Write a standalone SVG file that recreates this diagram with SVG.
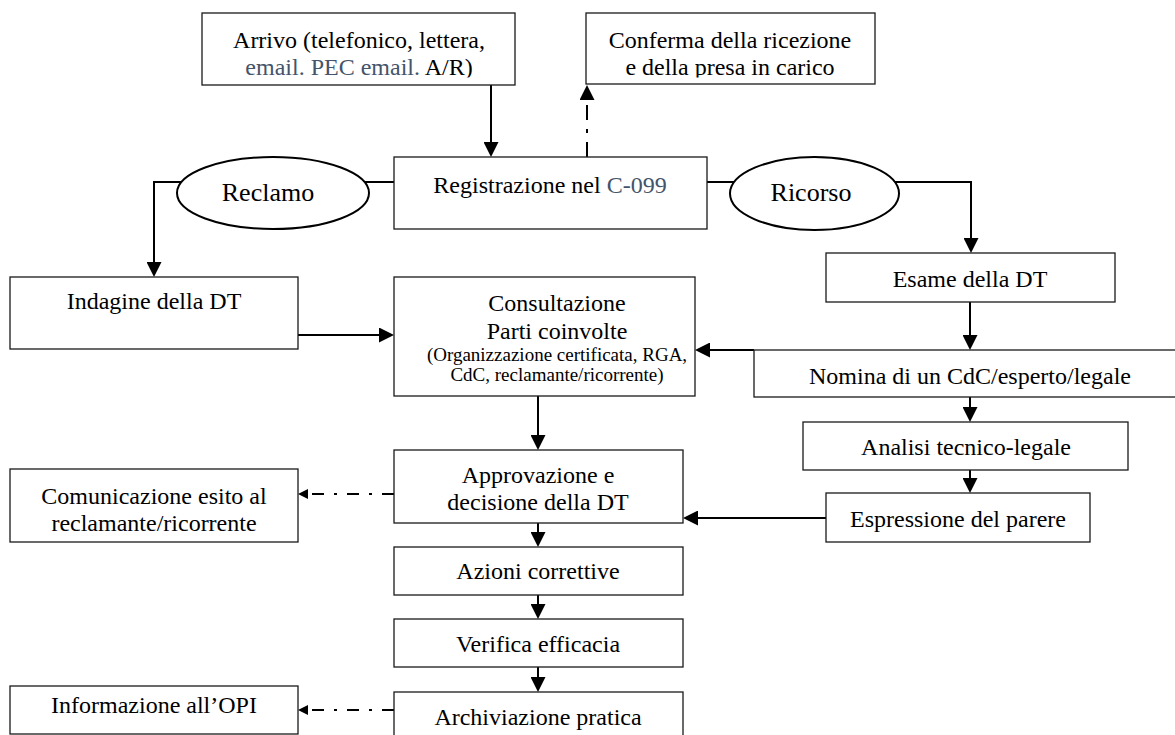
<svg xmlns="http://www.w3.org/2000/svg" width="1175" height="735" viewBox="0 0 1175 735">
<defs>
<marker id="ah" markerWidth="15" markerHeight="15" refX="0" refY="7.5" orient="auto" markerUnits="userSpaceOnUse"><path d="M0,0 L15,7.5 L0,15 z" fill="#000"/></marker>
<marker id="ahs" markerWidth="10" markerHeight="10" refX="0" refY="5" orient="auto" markerUnits="userSpaceOnUse"><path d="M0,0 L10,5 L0,10 z" fill="#000"/></marker>
<clipPath id="c1"><rect x="202" y="13" width="314" height="64.5"/></clipPath>
<clipPath id="c2"><rect x="586" y="13" width="290" height="64.5"/></clipPath>
</defs>
<style>
.box{fill:#fff;stroke:#1a1a1a;stroke-width:1.3}
.ell{fill:#fff;stroke:#000;stroke-width:2}
.t{font-family:"Liberation Serif","Times New Roman",serif;font-size:24px;fill:#000;text-anchor:middle}
.big{font-size:26px}
.sm{font-size:19px}
.blue{fill:#44546A}
.ln{fill:none;stroke:#000;stroke-width:2;marker-end:url(#ah)}
.dd{fill:none;stroke:#000;stroke-width:2;stroke-dasharray:12 10 3 10}
.ddv{stroke-dasharray:15 9 4 9}
</style>
<rect width="1175" height="735" fill="#fff"/>
<g id="connectors">
<path class="ln" d="M491,85 V142"/>
<path class="dd ddv" d="M587,157 V100" marker-end="url(#ah)"/>
<path class="ln" d="M394,182 H154 V262"/>
<path class="ln" d="M707,182 H971 V238"/>
<path class="ln" d="M298,335 H379"/>
<path class="ln" d="M754,350 H710"/>
<path class="ln" d="M970,302 V335"/>
<path class="ln" d="M970,397 V407"/>
<path class="ln" d="M970,470 V478"/>
<path class="ln" d="M538,396 V435"/>
<path class="ln" d="M826,518 H698"/>
<path class="dd" d="M394,494 H308" marker-end="url(#ahs)"/>
<path class="ln" d="M538,523 V532"/>
<path class="ln" d="M538,595 V604"/>
<path class="ln" d="M538,667 V677"/>
<path class="dd" d="M394,710 H308" marker-end="url(#ahs)"/>
</g>
<g id="arrivo">
<rect class="box" x="202" y="13" width="313" height="72"/>
<g clip-path="url(#c1)">
<text class="t" x="359" y="48">Arrivo (telefonico, lettera,</text>
<text class="t" x="359" y="75"><tspan class="blue">email. PEC email.</tspan> A/R)</text>
</g>
</g>
<g id="conferma">
<rect class="box" x="586" y="13" width="289" height="71"/>
<g clip-path="url(#c2)">
<text class="t" x="730" y="48">Conferma della ricezione</text>
<text class="t" x="730" y="75">e della presa in carico</text>
</g>
</g>
<g id="registrazione">
<rect class="box" x="394" y="157" width="313" height="72"/>
<text class="t" x="550" y="193">Registrazione nel <tspan class="blue">C-099</tspan></text>
</g>
<g id="reclamo">
<ellipse class="ell" cx="273" cy="193" rx="96" ry="36"/>
<text class="t big" x="268" y="201">Reclamo</text>
</g>
<g id="ricorso">
<ellipse class="ell" cx="814.5" cy="193.5" rx="84.5" ry="36.5"/>
<text class="t big" x="811" y="201">Ricorso</text>
</g>
<g id="indagine">
<rect class="box" x="10" y="277" width="288" height="72"/>
<text class="t" x="154" y="309">Indagine della DT</text>
</g>
<g id="consultazione">
<rect class="box" x="394" y="277" width="301" height="119"/>
<text class="t" x="557" y="311">Consultazione</text>
<text class="t" x="557" y="339">Parti coinvolte</text>
<text class="t sm" x="557" y="361">(Organizzazione certificata, RGA,</text>
<text class="t sm" x="557" y="381">CdC, reclamante/ricorrente)</text>
</g>
<g id="esame">
<rect class="box" x="826" y="253" width="289" height="49"/>
<text class="t" x="970" y="287">Esame della DT</text>
</g>
<g id="nomina">
<rect class="box" x="754" y="350" width="432" height="47"/>
<text class="t" x="970" y="384">Nomina di un CdC/esperto/legale</text>
</g>
<g id="analisi">
<rect class="box" x="803" y="422" width="325" height="48"/>
<text class="t" x="966" y="455">Analisi tecnico-legale</text>
</g>
<g id="espressione">
<rect class="box" x="826" y="493" width="264" height="49"/>
<text class="t" x="958" y="527">Espressione del parere</text>
</g>
<g id="approvazione">
<rect class="box" x="394" y="450" width="289" height="73"/>
<text class="t" x="538" y="483">Approvazione e</text>
<text class="t" x="538" y="510">decisione della DT</text>
</g>
<g id="comunicazione">
<rect class="box" x="10" y="469" width="288" height="73"/>
<text class="t" x="154" y="504">Comunicazione esito al</text>
<text class="t" x="154" y="531">reclamante/ricorrente</text>
</g>
<g id="azioni">
<rect class="box" x="394" y="547" width="289" height="48"/>
<text class="t" x="538" y="579">Azioni correttive</text>
</g>
<g id="verifica">
<rect class="box" x="394" y="619" width="289" height="48"/>
<text class="t" x="538" y="652">Verifica efficacia</text>
</g>
<g id="archiviazione">
<rect class="box" x="394" y="692" width="289" height="50"/>
<text class="t" x="538" y="725">Archiviazione pratica</text>
</g>
<g id="informazione">
<rect class="box" x="10" y="686" width="288" height="48"/>
<text class="t" x="154" y="713">Informazione all’OPI</text>
</g>
</svg>
